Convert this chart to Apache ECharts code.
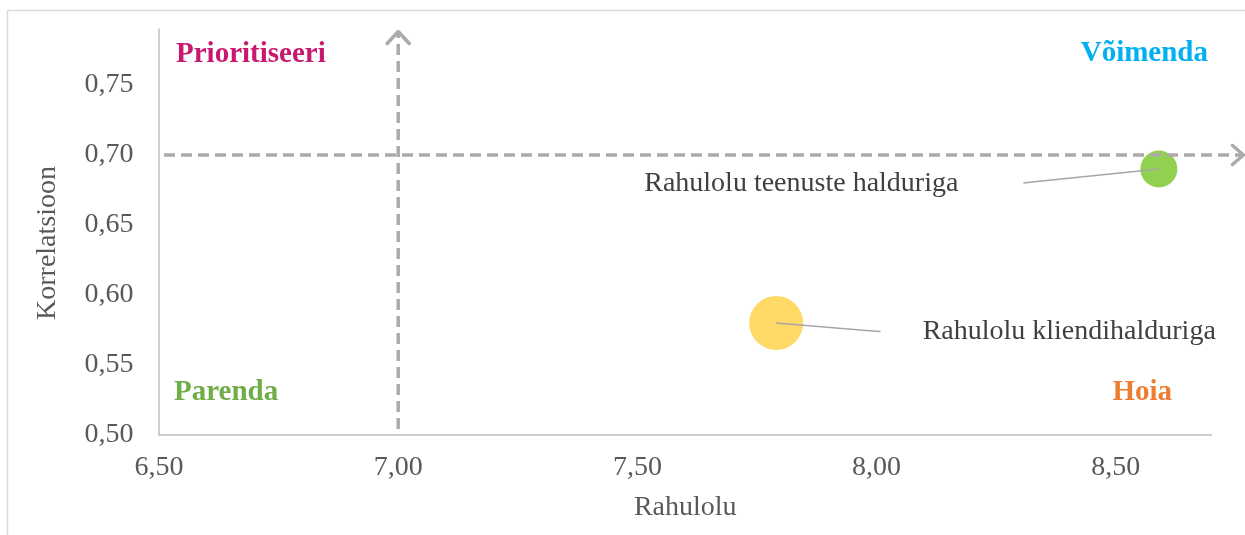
<!DOCTYPE html>
<html>
<head>
<meta charset="utf-8">
<script src="https://cdn.jsdelivr.net/npm/echarts@6/dist/echarts.min.js"></script>
<style>
  html, body { margin: 0; padding: 0; background: #ffffff; }
  #chart { width: 1245px; height: 535px; }
</style>
</head>
<body>
<div id="chart"></div>
<script>
// Satisfaction vs. correlation for the two service aspects
const itemNames = ['Rahulolu teenuste halduriga', 'Rahulolu kliendihalduriga'];
const satisfaction = [8.59, 7.79];
const correlation = [0.69, 0.58];

// Quadrant thresholds
const satisfactionThreshold = 7.00;
const correlationThreshold = 0.70;

// Axis setup
const xRange = [6.5, 8.7];
const xStep = 0.5;
const yRange = [0.5, 0.79];
const yStep = 0.05;
const xTitle = 'Rahulolu';
const yTitle = 'Korrelatsioon';

// Quadrant names
const quadrantNames = ['Prioritiseeri', 'Võimenda', 'Parenda', 'Hoia'];

const SERIF = "'Liberation Serif', 'Times New Roman', serif";

// Per-bubble look: fill, diameter, leader line bends and text placement (pixels from centre)
const bubbleLook = [
  { color: '#92D050', size: 37, bends: [[-122, 12.5], [-135.5, 14]], text: [-200.5, 15], align: 'right' },
  { color: '#FFD966', size: 54, bends: [[93, 7.7], [104.5, 8.4]], text: [146.5, 9], align: 'left' }
];

// Quadrant label placement and colours
const quadrantLook = [
  { x: 176, y: 55, align: 'left', color: '#C8186F' },
  { x: 1208, y: 53.5, align: 'right', color: '#00B0F0' },
  { x: 174, y: 393, align: 'left', color: '#70AD47' },
  { x: 1172, y: 393, align: 'right', color: '#ED7D31' }
];

function onStep(v, step) {
  const r = v / step;
  return Math.abs(r - Math.round(r)) < 1e-6;
}
function commaFmt(v) {
  return v.toFixed(2).replace('.', ',');
}

const points = satisfaction.map((x, i) => [x, correlation[i], i]);

const chart = echarts.init(document.getElementById('chart'), null, { renderer: 'canvas' });

const axisLineStyle = { color: '#BFBFBF', width: 1.5 };
const labelStyle = { color: '#595959', fontFamily: SERIF, fontSize: 28, lineHeight: 28 };

chart.setOption({
  animation: false,
  backgroundColor: '#ffffff',
  grid: { left: 159, right: 33.5, top: 29, bottom: 100 },
  xAxis: {
    type: 'value',
    min: xRange[0], max: xRange[1], interval: xStep,
    name: xTitle, nameLocation: 'middle', nameGap: 59,
    nameTextStyle: { color: '#595959', fontFamily: SERIF, fontSize: 28, lineHeight: 28 },
    axisLine: { show: true, lineStyle: axisLineStyle },
    axisTick: { show: false },
    splitLine: { show: false },
    axisLabel: Object.assign({
      margin: 19, showMaxLabel: false,
      formatter: v => onStep(v - xRange[0], xStep) ? commaFmt(v) : ''
    }, labelStyle)
  },
  yAxis: {
    type: 'value',
    min: yRange[0], max: yRange[1], interval: yStep,
    name: yTitle, nameLocation: 'middle', nameGap: 97,
    nameTextStyle: { color: '#595959', fontFamily: SERIF, fontSize: 28, lineHeight: 28, padding: [0, 22, 0, 0] },
    axisLine: { show: true, lineStyle: axisLineStyle },
    axisTick: { show: false },
    splitLine: { show: false },
    axisLabel: Object.assign({
      margin: 25.5, showMaxLabel: false,
      formatter: v => onStep(v - yRange[0], yStep) ? commaFmt(v) : ''
    }, labelStyle)
  },
  graphic: [
    // outer chart frame
    { type: 'rect', shape: { x: 7.5, y: 10.5, width: 1300, height: 600 },
      style: { fill: 'none', stroke: '#D9D9D9', lineWidth: 1.5 }, silent: true, z: 0 }
  ].concat(quadrantNames.map((t, i) => ({
    type: 'text', x: quadrantLook[i].x, y: quadrantLook[i].y, silent: true, z: 10,
    style: {
      text: t, fill: quadrantLook[i].color, fontFamily: SERIF, fontSize: 29, fontWeight: 'bold',
      align: quadrantLook[i].align, verticalAlign: 'middle'
    }
  }))),
  series: [
    {
      // bubbles
      type: 'scatter',
      z: 2,
      data: points.map(p => ({
        value: [p[0], p[1]],
        symbolSize: bubbleLook[p[2]].size,
        itemStyle: { color: bubbleLook[p[2]].color, opacity: 1 }
      })),
      emphasis: { disabled: true },
      silent: true
    },
    {
      // dashed quadrant dividers with open arrowheads
      type: 'custom',
      z: 3,
      silent: true,
      clip: false,
      data: [[satisfactionThreshold, correlationThreshold]],
      renderItem: function (params, api) {
        const cs = params.coordSys;
        const p = api.coord([api.value(0), api.value(1)]);
        const stroke = '#AEAAAA';
        const w = 3.5;
        const dash = { stroke: stroke, lineWidth: w, lineDash: [11, 6], fill: 'none' };
        const head = { stroke: stroke, lineWidth: w, fill: 'none', lineCap: 'round', lineJoin: 'round' };
        const topY = cs.y + 2.5;
        const botY = cs.y + cs.height - 6;
        const leftX = cs.x + 5;
        const endX = cs.x + cs.width + 32;
        return {
          type: 'group',
          children: [
            { type: 'line', shape: { x1: p[0], y1: botY, x2: p[0], y2: topY + 2 }, style: dash },
            { type: 'polyline', shape: { points: [[p[0] - 11, topY + 12], [p[0], topY], [p[0] + 11, topY + 12]] }, style: head },
            { type: 'line', shape: { x1: leftX, y1: p[1], x2: endX - 2, y2: p[1] }, style: dash },
            { type: 'polyline', shape: { points: [[endX - 11, p[1] - 9.5], [endX, p[1]], [endX - 11, p[1] + 9.5]] }, style: head }
          ]
        };
      }
    },
    {
      // item names with leader lines
      type: 'custom',
      z: 4,
      silent: true,
      clip: false,
      data: points,
      renderItem: function (params, api) {
        const i = api.value(2);
        const look = bubbleLook[i];
        const p = api.coord([api.value(0), api.value(1)]);
        const pts = [[p[0], p[1]]].concat(look.bends.map(b => [p[0] + b[0], p[1] + b[1]]));
        return {
          type: 'group',
          children: [
            { type: 'polyline', shape: { points: pts },
              style: { stroke: '#A6A6A6', lineWidth: 1.5, fill: 'none' } },
            { type: 'text', x: p[0] + look.text[0], y: p[1] + look.text[1],
              style: { text: itemNames[i], fill: '#404040', fontFamily: SERIF, fontSize: 28,
                       align: look.align, verticalAlign: 'middle' } }
          ]
        };
      }
    }
  ]
});
</script>
</body>
</html>
